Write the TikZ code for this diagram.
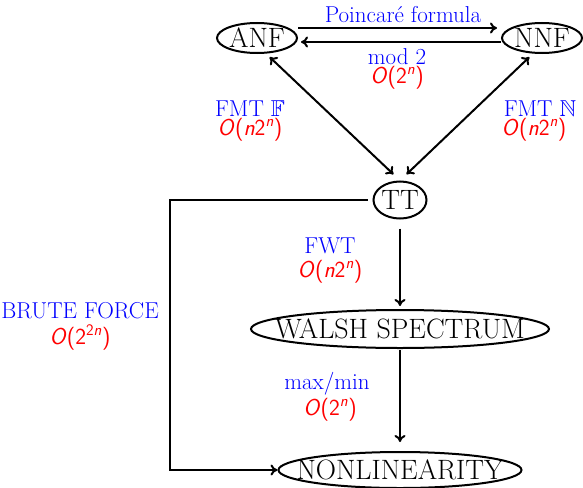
\documentclass[tikz,border=0pt]{standalone}
\usepackage{amssymb}
\usetikzlibrary{shapes.geometric,arrows.meta}
\newcommand{\cplx}[1]{{\color{red}\fontsize{23}{25}\selectfont\sffamily #1}}
\begin{document}
\begin{tikzpicture}[x=1pt,y=-1pt,
  ell/.style={draw, ellipse, inner sep=0pt, line width=2pt, font=\fontsize{28}{30}\selectfont},
  lbl/.style={inner sep=0pt, text=blue, font=\fontsize{23}{25}\selectfont},
  cx/.style={inner sep=0pt},
  conn/.style={line width=2pt, -{To[length=7pt,width=11pt]}},
  dconn/.style={line width=2pt, {To[length=7pt,width=11pt]}-{To[length=7pt,width=11pt]}}]
\useasboundingbox (0,0) rectangle (583,487);
\node[ell, minimum width=80pt, minimum height=30pt] (ANF) at (257,38) {\makebox[0pt]{ANF}};
\node[ell, minimum width=80pt, minimum height=30pt] (NNF) at (542,38) {\makebox[0pt]{NNF}};
\node[ell, minimum width=53pt, minimum height=37pt] (TT) at (400,200) {\makebox[0pt]{TT}};
\node[ell, minimum width=298pt, minimum height=38pt] (WS) at (400,329) {\makebox[0pt]{WALSH SPECTRUM}};
\node[ell, minimum width=243pt, minimum height=36pt] (NL) at (400,470) {\makebox[0pt]{NONLINEARITY}};
\coordinate (bf) at (170,201);
% top arrows
\draw[conn] ([yshift=10pt]ANF.east) -- ([yshift=10pt,xshift=-4pt]NNF.west);
\draw[conn] ([yshift=-4pt]NNF.west) -- ([yshift=-4pt,xshift=3pt]ANF.east);
% diagonals
\draw[dconn, shorten <=5pt, shorten >=9pt] (ANF.-60) -- (TT.north);
\draw[dconn, shorten <=5pt, shorten >=9pt] (NNF.-120) -- (TT.north);
% verticals
\draw[conn, shorten <=9pt, shorten >=3pt] (TT.south) -- (WS.north);
\draw[conn, shorten <=1pt, shorten >=9pt] (WS.south) -- (NL.north);
% brute force
\draw[conn, shorten <=5pt] (TT.west) -- (TT.west -| bf) |- (NL.west);
% labels
\node[lbl] (pf) at (403,15) {Poincar\'e formula};
\node[lbl] (m2) at (397,57) {mod 2};
\node[cx] (m2c) at (397,78) {\cplx{\textit{O}(2\textsuperscript{\textit{n}})}};
\node[lbl] (fF) at (250,109) {FMT $\mathbb{F}$};
\node[cx] (fFc) at (250,130) {\cplx{\textit{O}(\textit{n}2\textsuperscript{\textit{n}})}};
\node[lbl] (fN) at (540,109) {FMT $\mathbb{N}$};
\node[cx] (fNc) at (534,130) {\cplx{\textit{O}(\textit{n}2\textsuperscript{\textit{n}})}};
\node[lbl] (fw) at (330,246) {FWT};
\node[cx] (fwc) at (330,272) {\cplx{\textit{O}(\textit{n}2\textsuperscript{\textit{n}})}};
\node[lbl] (br) at (80,311) {BRUTE FORCE};
\node[cx] (brc) at (80,337) {\cplx{\textit{O}(2\textsuperscript{2\textit{n}})}};
\node[lbl] (mm) at (327,384) {max/min};
\node[cx] (mmc) at (330,410) {\cplx{\textit{O}(2\textsuperscript{\textit{n}})}};
\end{tikzpicture}
\end{document}
